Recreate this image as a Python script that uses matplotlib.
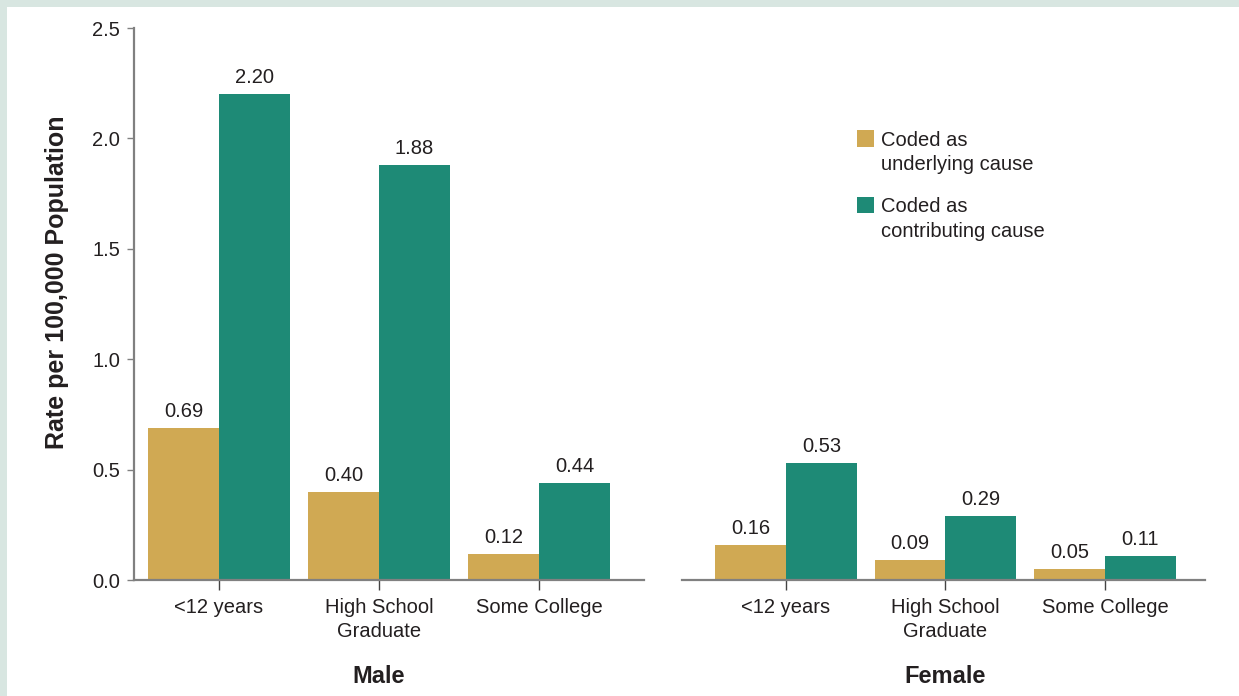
import matplotlib
matplotlib.use("Agg")
import matplotlib.pyplot as plt
from matplotlib.patches import Rectangle
import matplotlib.transforms as mtransforms

plt.rcParams['font.family'] = ['Liberation Sans', 'DejaVu Sans']

# data
education = ["<12 years", "High School\nGraduate", "Some College"]
male_underlying = [0.69, 0.40, 0.12]
male_contributing = [2.20, 1.88, 0.44]
female_underlying = [0.16, 0.09, 0.05]
female_contributing = [0.53, 0.29, 0.11]
series_names = ["Coded as\nunderlying cause", "Coded as\ncontributing cause"]
y_ticks = [0.0, 0.5, 1.0, 1.5, 2.0, 2.5]

gold = "#D0A953"
teal = "#1E8A76"
txt = "#231F20"
axis_gray = "#808080"
mint = "#D8E6E1"

W, H = 1239, 696
fig = plt.figure(figsize=(W / 100, H / 100), dpi=100)
fig.patch.set_facecolor(mint)
fig.add_artist(Rectangle((7 / W, 0), 1 - 7 / W, 1 - 7 / H, transform=fig.transFigure,
                         facecolor="white", edgecolor="none", zorder=-10))

ax_m = fig.add_axes([134 / W, 116 / H, 510 / W, 552 / H])
ax_f = fig.add_axes([681.5 / W, 116 / H, 523.5 / W, 552 / H])

bw = 0.444
pos = list(range(len(education)))

panels = [(ax_m, male_underlying, male_contributing, "Male", (-0.531, 2.656)),
          (ax_f, female_underlying, female_contributing, "Female", (-0.655, 2.627))]

for ax, und, con, title, xl in panels:
    ax.set_facecolor("none")
    b1 = ax.bar([p - bw / 2 for p in pos], und, width=bw, color=gold, label=series_names[0])
    b2 = ax.bar([p + bw / 2 for p in pos], con, width=bw, color=teal, label=series_names[1])
    for b in (b1, b2):
        ax.bar_label(b, fmt="%.2f", padding=5, fontsize=14.5, color=txt)
    ax.set_xlim(*xl)
    ax.set_ylim(0, 2.5)
    ax.set_xticks(pos)
    ax.set_xticklabels(education, fontsize=14.5, color=txt)
    for t in ax.get_xticklabels():
        t.set_linespacing(1.35)
    ax.tick_params(axis="x", length=7, width=1, color="#444444", pad=6)
    for s in ("top", "right"):
        ax.spines[s].set_visible(False)
    ax.spines["bottom"].set_color(axis_gray)
    ax.spines["bottom"].set_linewidth(1.6)
    trans = mtransforms.blended_transform_factory(ax.transData, ax.transAxes)
    ax.text(1, -0.174, title, transform=trans, ha="center", va="center",
            fontsize=17, fontweight="bold", color=txt)

ax_m.set_yticks(y_ticks)
ax_m.set_yticklabels([f"{v:.1f}" for v in y_ticks], fontsize=14.5, color=txt)
ax_m.tick_params(axis="y", length=5, width=1, color=axis_gray, pad=5)
ax_m.spines["left"].set_color(axis_gray)
ax_m.spines["left"].set_linewidth(1.6)
ax_m.set_ylabel("Rate per 100,000 Population", fontsize=18, fontweight="bold", color=txt)
ax_m.yaxis.set_label_coords(-0.127, 0.54)

ax_f.spines["left"].set_visible(False)
ax_f.set_yticks([])

# legend, drawn by hand so the swatch sits beside the first line
for i, (name, col) in enumerate(zip(series_names, [gold, teal])):
    top = 130 + i * 66.5
    fig.add_artist(Rectangle((857 / W, 1 - (top + 16.5) / H), 17 / W, 16.5 / H,
                             transform=fig.transFigure, facecolor=col, edgecolor="none"))
    fig.text(881 / W, 1 - (top + 1) / H, name, fontsize=14.5, color=txt,
             va="top", ha="left", linespacing=1.35)

fig.savefig("out.png", dpi=100, facecolor=fig.get_facecolor())
